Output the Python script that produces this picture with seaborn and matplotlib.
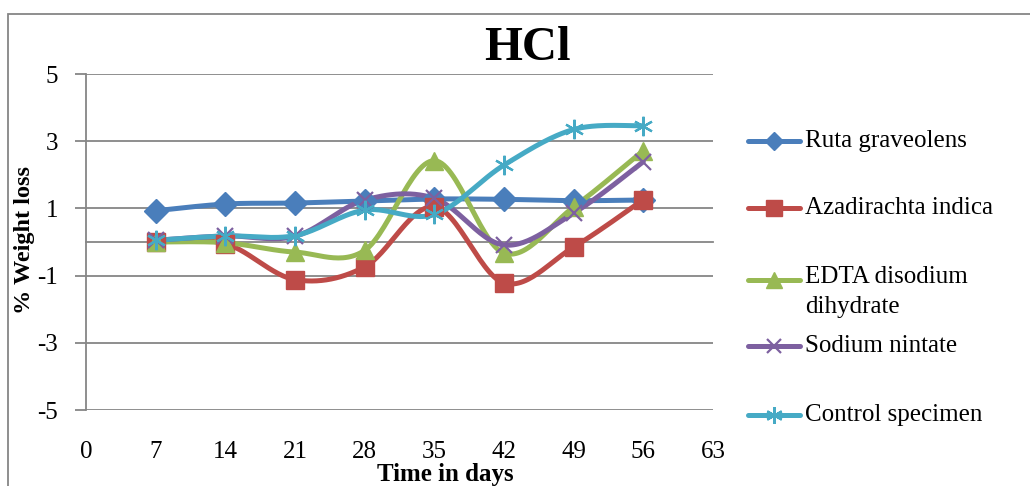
import numpy as np
import pandas as pd
import seaborn as sns
import matplotlib.pyplot as plt
from matplotlib.lines import Line2D
from matplotlib.patches import Rectangle

days = [7, 14, 21, 28, 35, 42, 49, 56]
ruta = [0.93, 1.13, 1.16, 1.22, 1.28, 1.27, 1.23, 1.25]
azadirachta = [0.0, -0.05, -1.12, -0.74, 1.05, -1.22, -0.15, 1.26]
edta = [0.0, -0.02, -0.3, -0.25, 2.42, -0.33, 1.04, 2.72]
sodium = [0.05, 0.18, 0.17, 1.25, 1.3, -0.09, 0.86, 2.39]
control = [0.05, 0.18, 0.19, 0.95, 0.82, 2.29, 3.35, 3.46]

series_names = ["Ruta graveolens", "Azadirachta indica", "EDTA disodium\ndihydrate",
                "Sodium nintate", "Control specimen"]
series_values = [ruta, azadirachta, edta, sodium, control]
colors = ["#4A7EBB", "#BE4B48", "#98B954", "#7D60A0", "#46AAC5"]
markers = ["D", "s", "^", "x", (6, 2, 0)]
marker_sizes = [12, 13, 13, 11, 14]
legend_marker_sizes = [9, 11, 11, 10, 12]

x_ticks = list(range(0, 64, 7))
y_ticks = [-5, -3, -1, 1, 3, 5]
grid_color = "#868686"


def smoothCurve(x, y, steps=30):
    # excel style smoothing: bezier segments with catmull-rom control points
    pts = np.column_stack([x, y]).astype(float)
    padded = np.vstack([pts[0], pts, pts[-1]])
    out = []
    t = np.linspace(0, 1, steps)[:, None]
    for i in range(len(pts) - 1):
        p0, p1 = padded[i + 1], padded[i + 2]
        c0 = p0 + (padded[i + 2] - padded[i]) / 6
        c1 = p1 - (padded[i + 3] - padded[i + 1]) / 6
        seg = (1 - t) ** 3 * p0 + 3 * (1 - t) ** 2 * t * c0 + 3 * (1 - t) * t ** 2 * c1 + t ** 3 * p1
        out.append(seg if i == 0 else seg[1:])
    out = np.vstack(out)
    return out[:, 0], out[:, 1]


sns.set_style("white")
plt.rcParams['font.family'] = ['Liberation Serif', 'DejaVu Serif']
plt.rcParams['text.color'] = 'black'
plt.rcParams['axes.labelcolor'] = 'black'
plt.rcParams['xtick.labelcolor'] = 'black'
plt.rcParams['ytick.labelcolor'] = 'black'

fig = plt.figure(figsize=(10.3, 4.86), dpi=100)
ax = fig.add_axes([86 / 1030, 1 - 410 / 486, 627 / 1030, 336 / 486])

for name, vals, col, mk, ms in zip(series_names, series_values, colors, markers, marker_sizes):
    sx, sy = smoothCurve(days, vals)
    curve = pd.DataFrame({"day": sx, "value": sy})
    sns.lineplot(data=curve, x="day", y="value", sort=False, color=col, lw=3.6, ax=ax,
                 solid_capstyle="round", zorder=3)
    pts = pd.DataFrame({"day": days, "value": vals})
    if mk == "x" or isinstance(mk, tuple):
        ax.plot(pts["day"], pts["value"], ls="none", marker=mk, ms=ms, color=col, mew=1.6, zorder=4)
    else:
        ax.plot(pts["day"], pts["value"], ls="none", marker=mk, ms=ms, color=col, mec=col, zorder=4)

ax.set_xlim(0, 63)
ax.set_ylim(-5, 5)
ax.set_yticks(y_ticks)
ax.set_yticklabels([str(v) for v in y_ticks], fontsize=18, color="black")
ax.grid(axis="y", color=grid_color, lw=1.3)
ax.grid(axis="x", visible=False)
for s in ["top", "right"]:
    ax.spines[s].set_visible(False)
ax.spines["left"].set_color(grid_color)
ax.spines["left"].set_linewidth(1.3)
ax.spines["bottom"].set_position(("data", 0))
ax.spines["bottom"].set_color(grid_color)
ax.spines["bottom"].set_linewidth(1.3)
ax.set_xticks(x_ticks)
ax.tick_params(axis="x", direction="out", length=7, width=1.3, color=grid_color, labelbottom=False)
ax.tick_params(axis="y", direction="out", length=8, width=1.3, color=grid_color, pad=12, left=True)

sec = ax.secondary_xaxis("bottom")
sec.set_xticks(x_ticks)
sec.set_xticklabels([str(v) for v in x_ticks], fontsize=18, color="black")
sec.tick_params(length=0, pad=22)
sec.spines["bottom"].set_visible(False)

ax.set_xlabel("Time in days", fontsize=18, fontweight="bold", va="center", color="black")
ax.xaxis.set_label_coords((445 - 86) / 627, (410 - 474) / 336)
ax.set_ylabel("% Weight loss", fontsize=17.5, fontweight="bold", va="center", color="black")
ax.yaxis.set_label_coords((25 - 86) / 627, (410 - 240) / 336)

fig.text(527 / 1030, 1 - 48 / 486, "HCl", fontsize=35, fontweight="bold", ha="center", va="center")

# legend, laid out by hand like the excel one
legend_y = [141, 208, 280, 346, 415]
for name, col, mk, ms, ly in zip(series_names, colors, markers, legend_marker_sizes, legend_y):
    yy = 1 - ly / 486
    fig.add_artist(Line2D([748 / 1030, 800 / 1030], [yy, yy], transform=fig.transFigure,
                          color=col, lw=3.6, solid_capstyle="round"))
    mew = 1.6 if (mk == "x" or isinstance(mk, tuple)) else 1
    fig.add_artist(Line2D([774 / 1030], [yy], transform=fig.transFigure, ls="none",
                          marker=mk, ms=ms, color=col, mew=mew))
    if "\n" in name:
        fig.text(805 / 1030, 1 - (ly - 14) / 486, name, fontsize=18, ha="left", va="top",
                 linespacing=1.45)
    else:
        fig.text(805 / 1030, yy, name, fontsize=18, ha="left", va="center")

fig.add_artist(Rectangle((8 / 1030, -0.1), 1.2, 1 - 14 / 486 + 0.1, transform=fig.transFigure,
                         fill=False, ec=grid_color, lw=1.3))

fig.savefig("out.png", dpi=100)
